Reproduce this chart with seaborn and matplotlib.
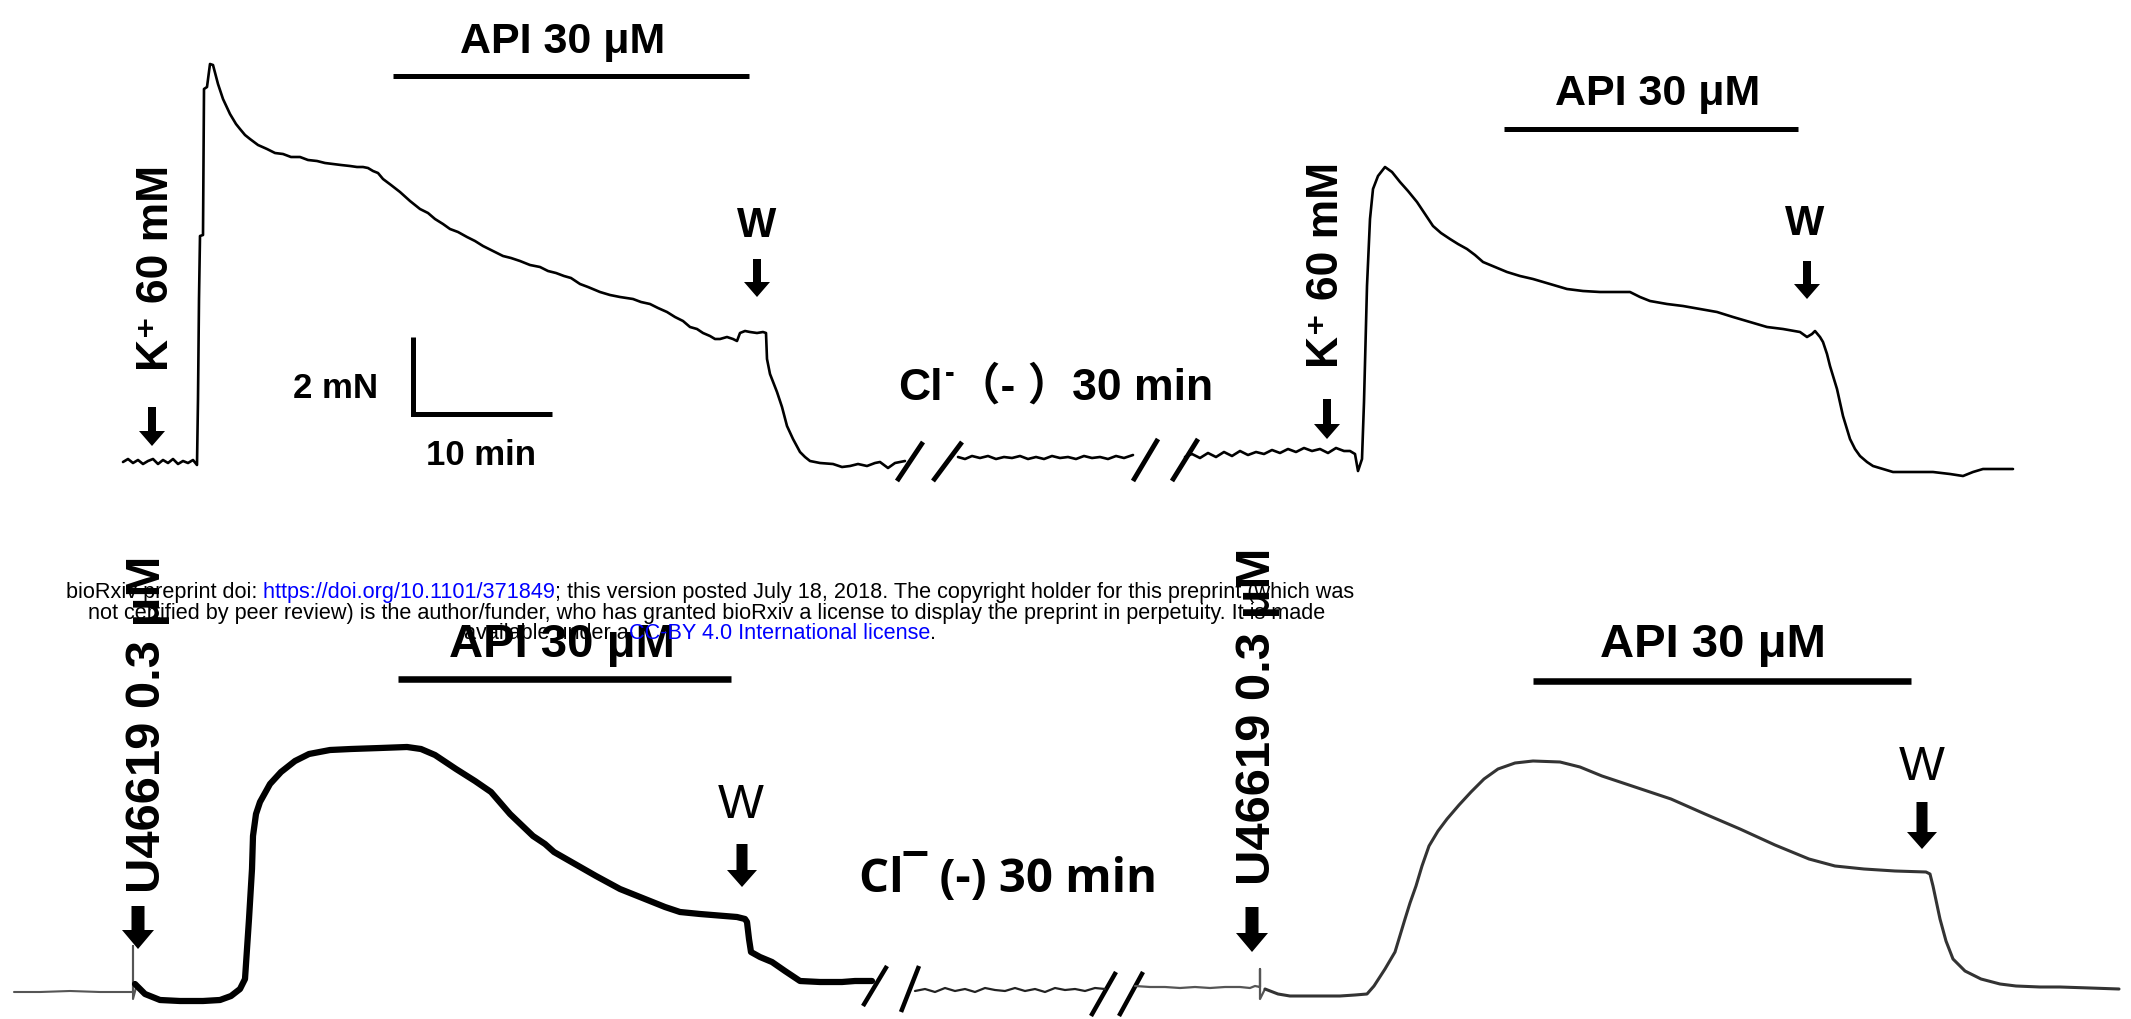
import logging
import matplotlib
matplotlib.use("Agg")
import matplotlib.pyplot as plt
import seaborn as sns
from matplotlib import font_manager
from matplotlib.patches import FancyArrow

logging.getLogger("matplotlib.font_manager").setLevel(logging.ERROR)

# ------------------------------------------------------------------
# Digitised isometric-tension traces (chart-recorder units:
# 10 min = 139 units on the time axis, 2 mN = 77 units on the force axis)
# ------------------------------------------------------------------
# Top row: K+ 60 mM contraction, API, wash -> Cl- free -> K+ 60 mM, API, wash
t_top_a = [123, 128, 133, 138, 143, 148, 153, 158, 163, 168,
           173, 178, 183, 188, 193, 197, 198, 199, 200, 203,
           204, 207, 210, 213, 218, 223, 230, 236, 240, 245,
           250, 258, 267, 275, 283, 291, 300, 308, 317, 325,
           333, 341, 350, 357, 363, 368, 373, 378, 383, 391,
           400, 410, 420, 428, 435, 443, 450, 458, 467, 475,
           483, 493, 503, 511, 520, 530, 540, 548, 556, 564,
           571, 580, 588, 600, 610, 620, 633, 641, 650, 658,
           667, 675, 683, 690, 697, 703, 710, 715, 720, 727,
           733, 737, 740, 745, 750, 757, 763, 766, 767, 770,
           777, 782, 787, 793, 800, 805, 810, 820, 833, 842,
           850, 858, 867, 875, 880, 888, 895, 905]
f_top_a = [557, 560, 556, 559, 555, 558, 560, 555, 559, 556,
           560, 555, 558, 556, 559, 554, 620, 720, 783, 784,
           930, 932, 955, 954, 935, 920, 905, 895, 890, 884,
           880, 874, 870, 866, 865, 862, 862, 859, 858, 856,
           855, 854, 853, 852, 852, 851, 848, 846, 840, 834,
           827, 818, 810, 806, 800, 795, 790, 787, 782, 778,
           773, 768, 763, 761, 758, 754, 752, 748, 746, 743,
           741, 735, 732, 727, 724, 722, 720, 717, 715, 711,
           707, 702, 698, 692, 690, 686, 683, 680, 680, 682,
           680, 678, 686, 688, 687, 686, 687, 686, 660, 645,
           627, 612, 593, 580, 567, 562, 558, 556, 555, 552,
           553, 555, 553, 556, 557, 551, 556, 558]

t_top_b = [958, 965, 972, 980, 988, 996, 1004, 1012, 1020, 1028,
           1036, 1044, 1052, 1060, 1068, 1076, 1084, 1092, 1100, 1108,
           1116, 1124, 1133]
f_top_b = [562, 560, 563, 561, 563, 560, 562, 561, 563, 560,
           562, 560, 563, 561, 562, 560, 563, 561, 562, 560,
           563, 561, 564]

t_top_c = [1185, 1192, 1200, 1208, 1216, 1224, 1232, 1240, 1248, 1256,
           1264, 1272, 1280, 1288, 1296, 1304, 1312, 1320, 1328, 1336,
           1344, 1350, 1355, 1358, 1362, 1364, 1367, 1370, 1373, 1378,
           1385, 1392, 1400, 1408, 1417, 1425, 1433, 1441, 1450, 1458,
           1467, 1475, 1483, 1495, 1507, 1520, 1533, 1550, 1567, 1583,
           1600, 1615, 1630, 1640, 1650, 1667, 1683, 1700, 1717, 1733,
           1750, 1767, 1783, 1800, 1807, 1812, 1815, 1820, 1823, 1827,
           1830, 1837, 1843, 1850, 1855, 1860, 1867, 1873, 1883, 1893,
           1910, 1933, 1950, 1963, 1973, 1983, 2000, 2013]
f_top_c = [562, 565, 561, 566, 562, 567, 563, 568, 564, 567,
           565, 569, 566, 570, 567, 571, 568, 570, 566, 571,
           568, 568, 565, 548, 560, 617, 733, 800, 830, 843,
           852, 847, 837, 828, 817, 805, 793, 786, 780, 775,
           770, 764, 757, 752, 747, 743, 740, 735, 730, 728,
           727, 727, 727, 722, 718, 715, 713, 710, 707, 702,
           697, 692, 690, 687, 682, 685, 688, 682, 677, 665,
           653, 630, 603, 580, 570, 563, 557, 553, 550, 547,
           547, 547, 545, 543, 547, 550, 550, 550]

# Bottom row: U46619 0.3 uM contraction, API, wash -> Cl- free -> U46619, API, wash
t_bot_pre = [14, 40, 70, 100, 128, 133, 133, 133, 137]
f_bot_pre = [27, 27, 28, 27, 27, 27, 73, 20, 35]

t_bot_a = [135, 145, 160, 180, 203, 220, 231, 240, 245, 247,
           249, 252, 253, 256, 260, 270, 281, 295, 309, 330,
           351, 380, 407, 421, 435, 456, 475, 491, 510, 533,
           545, 554, 575, 596, 620, 645, 665, 680, 700, 737,
           745, 747, 749, 751, 760, 772, 785, 800, 820, 842,
           855, 872]
f_bot_a = [35, 25, 19, 18, 18, 19, 23, 30, 40, 70,
           100, 150, 183, 205, 217, 235, 247, 258, 265, 269,
           270, 271, 272, 270, 264, 250, 238, 227, 205, 183,
           175, 167, 155, 143, 130, 120, 112, 107, 105, 102,
           100, 97, 80, 67, 62, 57, 48, 38, 37, 37,
           38, 38]

t_bot_b = [915, 925, 935, 945, 955, 965, 975, 985, 995, 1005,
           1015, 1025, 1035, 1045, 1055, 1065, 1075, 1085, 1095, 1105]
f_bot_b = [28, 30, 27, 31, 28, 30, 27, 31, 29, 28,
           31, 28, 30, 27, 31, 29, 30, 28, 31, 30]

t_bot_c = [1135, 1150, 1165, 1180, 1195, 1210, 1225, 1240, 1250, 1255,
           1260, 1260, 1260, 1265]
f_bot_c = [33, 32, 32, 31, 32, 31, 32, 32, 31, 33,
           32, 50, 20, 30]

t_bot_d = [1265, 1278, 1290, 1300, 1320, 1340, 1355, 1367, 1374, 1385,
           1395, 1405, 1410, 1416, 1422, 1429, 1438, 1447, 1459, 1471,
           1484, 1498, 1515, 1533, 1560, 1580, 1602, 1635, 1671, 1705,
           1740, 1775, 1809, 1835, 1864, 1895, 1926, 1930, 1933, 1940,
           1946, 1953, 1965, 1981, 2000, 2016, 2040, 2060, 2090, 2119]
f_bot_d = [30, 25, 23, 23, 23, 23, 24, 25, 33, 50,
           67, 100, 116, 133, 153, 173, 188, 200, 214, 227,
           240, 250, 256, 258, 257, 252, 243, 232, 220, 205,
           190, 174, 160, 153, 150, 148, 147, 145, 133, 100,
           78, 60, 48, 40, 35, 33, 32, 32, 31, 30]

# Drug application periods (start, end) on the time axis
api_periods_top = [(393, 749), (1504, 1798)]
api_periods_bot = [(398, 731), (1533, 1911)]
# scale bar sizes
scale_time = 139   # 10 min
scale_force = 77   # 2 mN

# ------------------------------------------------------------------
sns.set_theme(style="white")
plt.rcParams["font.family"] = ["Liberation Sans", "DejaVu Sans"]
plt.rcParams["text.color"] = "black"
plt.rcParams["axes.unicode_minus"] = False

available = {f.name for f in font_manager.fontManager.ttflist}
if "Liberation Sans Narrow" in available:
    NARROW, nscale = "Liberation Sans Narrow", 1.0
else:
    NARROW, nscale = "Liberation Sans", 0.84

fig = plt.figure(figsize=(21.31, 10.20), dpi=100)
ax = fig.add_axes([0, 0, 1, 1])
ax.set_xlim(0, 2131)
ax.set_ylim(0, 1020)
ax.axis("off")


def trace(t, f, color="black", lw=1.9, z=3):
    sns.lineplot(x=t, y=f, sort=False, estimator=None, color=color, lw=lw,
                 ax=ax, zorder=z, legend=False, solid_joinstyle="round")


trace(t_top_a, f_top_a)
trace(t_top_b, f_top_b)
trace(t_top_c, f_top_c)
trace(t_bot_pre, f_bot_pre, color="#555555", lw=1.5)
trace(t_bot_a, f_bot_a, color="black", lw=4.5)
trace(t_bot_b, f_bot_b, color="#222222", lw=1.6)
trace(t_bot_c, f_bot_c, color="#555555", lw=1.6)
trace(t_bot_d, f_bot_d, color="#333333", lw=2.2)


def slash(x0, y0, x1, y1, lw=3.5):
    ax.plot([x0, x1], [y0, y1], color="black", lw=lw, solid_capstyle="butt")


# axis breaks
slash(t_top_a[-1] - 8, 538, t_top_a[-1] + 18, 577)
slash(t_top_b[0] - 25, 538, t_top_b[0] + 4, 577)
slash(t_top_b[-1], 538, t_top_b[-1] + 25, 580)
slash(t_top_c[0] - 13, 538, t_top_c[0] + 13, 580)
slash(863, 13, 887, 53, lw=3.2)
slash(901, 7, 919, 53, lw=3.2)
slash(1091, 3, 1116, 47, lw=3.2)
slash(1119, 3, 1143, 47, lw=3.2)

# API bars
for (a, b), y in zip(api_periods_top, [943, 890]):
    ax.plot([a, b], [y, y], color="black", lw=3.6, solid_capstyle="butt")
for (a, b), y in zip(api_periods_bot, [340, 338]):
    ax.plot([a, b], [y, y], color="black", lw=4.7, solid_capstyle="butt")

# scale bar
ax.plot([413, 413, 413 + scale_time], [605 + scale_force, 605, 605],
        color="black", lw=3.6, solid_joinstyle="miter", solid_capstyle="butt")
ax.text(378, 622, "2 mN", ha="right", va="baseline", fontsize=25, fontweight="bold")
ax.text(413 + scale_time / 2 - 2, 555, "10 min", ha="center", va="baseline",
        fontsize=25, fontweight="bold")


def down_arrow(x, y_tail, y_tip, shaft=8, head_w=26, head_l=15):
    ax.add_patch(FancyArrow(x, y_tail, 0, y_tip - y_tail, width=shaft,
                            head_width=head_w, head_length=head_l,
                            length_includes_head=True, color="black", lw=0, zorder=4))


down_arrow(152, 612, 573)
down_arrow(1327, 620, 580)
down_arrow(757, 760, 722)
down_arrow(1807, 758, 720)
down_arrow(742, 175, 132, shaft=11, head_w=30, head_l=17)
down_arrow(1922, 217, 170, shaft=11, head_w=30, head_l=17)
down_arrow(138, 113, 70, shaft=13, head_w=32, head_l=19)
down_arrow(1252, 112, 67, shaft=13, head_w=32, head_l=19)

# labels
for x, y in [(563, 967), (1658, 915)]:
    ax.text(x, y, "API 30 μM", ha="center", va="baseline", fontsize=31, fontweight="bold")
for x, y in [(562, 363), (1713, 363)]:
    ax.text(x, y, "API 30 μM", ha="center", va="baseline", fontsize=34, fontweight="bold")

for x, y in [(168, 752), (1338, 755)]:
    ax.text(x, y, "K⁺ 60 mM", rotation=90, rotation_mode="anchor", ha="center",
            va="baseline", fontsize=38 * nscale, fontweight="bold",
            family=[NARROW, "DejaVu Sans"])
for x, y in [(160, 296), (1270, 304)]:
    ax.text(x, y, "U46619 0.3 μM", rotation=90, rotation_mode="anchor", ha="center",
            va="baseline", fontsize=42 * nscale, fontweight="bold",
            family=[NARROW, "DejaVu Sans"])

ax.text(757, 783, "W", ha="center", va="baseline", fontsize=30, fontweight="bold")
ax.text(1805, 785, "W", ha="center", va="baseline", fontsize=30, fontweight="bold")
ax.text(741, 202, "W", ha="center", va="baseline", fontsize=35)
ax.text(1922, 240, "W", ha="center", va="baseline", fontsize=35)

# "Cl- (-) 30 min" (top): chloride with a small raised minus sign
ax.text(898, 620, "Cl", ha="left", va="baseline", fontsize=32, fontweight="bold")
ax.text(945, 638, "-", ha="left", va="baseline", fontsize=21, fontweight="bold")
ax.text(1213, 620, "（- ）30 min", ha="right", va="baseline", fontsize=32,
        fontweight="bold", family=["Liberation Sans", "Noto Sans CJK SC", "DejaVu Sans"])
ax.text(859, 128, "Cl¯ (-) 30 min", ha="left", va="baseline", fontsize=34,
        fontweight="bold", family=["Open Sans", "DejaVu Sans"])

# bioRxiv watermark
BLUE = "#0000ff"


def mixed_line(x, y, parts, fs=15.6):
    full = "".join(s for s, _ in parts)
    ghost = ax.text(x, y, full, ha="center", va="baseline", fontsize=fs, alpha=0,
                    family="Liberation Sans")
    prev, xy = ghost, (0, 0)
    for s, c in parts:
        prev = ax.annotate(s, xy=xy, xycoords=prev, ha="left", va="bottom", fontsize=fs,
                           color=c, family="Liberation Sans", zorder=10)
        xy = (1, 0)


mixed_line(710, 422, [("bioRxiv preprint doi:", "black"),
                      (" https://doi.org/10.1101/371849", BLUE),
                      ("; this version posted July 18, 2018. The copyright holder for this preprint (which was", "black")])
mixed_line(707, 401, [("not certified by peer review) is the author/funder, who has granted bioRxiv a license to display the preprint in perpetuity. It is made", "black")])
mixed_line(700, 381, [("available under a", "black"),
                      ("CC-BY 4.0 International license", BLUE),
                      (".", "black")])

ax.set_xlim(0, 2131)
ax.set_ylim(0, 1020)
fig.savefig("out.png", dpi=100)
